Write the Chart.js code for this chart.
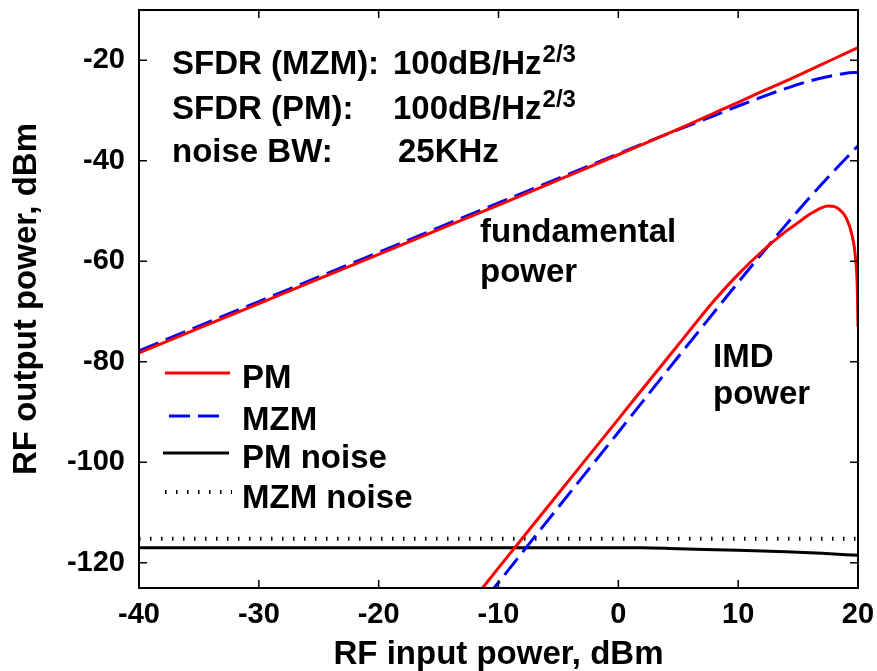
<!DOCTYPE html>
<html lang="en">
<head>
<meta charset="UTF-8">
<title>RF output power vs RF input power</title>
<script src="https://cdn.jsdelivr.net/npm/chart.js"></script>
<style>
  body { margin: 0; background: #fff; }
  .chart-container { width: 877px; height: 671px; }
</style>
</head>
<body>
<div class="chart-container"><canvas id="sfdrChart"></canvas></div>
<script>
// fundamental power (RF input in dBm)
const fundX = [-40, -35, -30, -25, -20, -15, -10, -5, 0, 5, 8, 10, 12, 14, 16, 18, 19, 20];
const pmFund = [-78.2, -73.3, -68.4, -63.5, -58.6, -53.7, -48.8, -43.8, -38.8, -33.7, -30.5, -28.4, -26.2, -24.1, -21.9, -19.7, -18.6, -17.5];
const mzmFund = [-77.8, -72.9, -68, -63.1, -58.2, -53.3, -48.4, -43.5, -38.6, -33.8, -31, -29.1, -27.3, -25.6, -24.1, -23, -22.6, -22.4];

// IMD power
const pmImdX = [-12, -10, -5, 0, 5, 8, 10, 12, 14, 15, 16, 17, 17.5, 18, 18.5, 19, 19.5, 19.8, 19.95, 20];
const pmImd = [-127, -121, -106.2, -91.4, -76.6, -67.8, -62.6, -58, -54, -52.3, -50.6, -49.3, -49, -49.1, -49.8, -51.3, -54.8, -59.5, -66, -73];
const mzmImdX = [-11, -10, -5, 0, 5, 10, 12, 14, 16, 18, 20];
const mzmImd = [-126.9, -123.9, -108.9, -94, -79, -64.2, -58.4, -52.7, -47.2, -42, -37];

// noise floors
const noiseX = [-40, 2, 5, 10, 14, 17, 20];
const pmNoise = [-117, -117, -117.2, -117.5, -117.8, -118.1, -118.5];
const mzmNoise = [-115.2, -115.2, -115.2, -115.2, -115.2, -115.2, -115.2];

const xTicks = [-40, -30, -20, -10, 0, 10, 20];
const yTicks = [-120, -100, -80, -60, -40, -20];

const FONT = '"Liberation Sans", Arial, sans-serif';
const TXT = 'bold 33px ' + FONT;
const pts = (xs, ys) => xs.map((x, i) => ({ x: x, y: ys[i] }));

// text labels drawn inside the plot
const notes = {
  id: 'notes',
  afterDatasetsDraw(chart) {
    const ctx = chart.ctx;
    ctx.save();
    ctx.fillStyle = '#000';
    ctx.textBaseline = 'alphabetic';
    ctx.textAlign = 'left';

    const rows = [['SFDR (MZM):', '100dB/Hz', 74], ['SFDR (PM):', '100dB/Hz', 119], ['noise BW:', '25KHz', 162]];
    rows.forEach((r, i) => {
      ctx.font = TXT;
      ctx.fillText(r[0], 172, r[2]);
      const vx = i === 2 ? 398 : 393;
      ctx.fillText(r[1], vx, r[2]);
      if (i < 2) {
        const w = ctx.measureText(r[1]).width;
        ctx.font = 'bold 24px ' + FONT;
        ctx.fillText('2/3', vx + w + 1, r[2] - 12);
      }
    });

    ctx.font = TXT;
    ctx.fillText('fundamental', 480, 242);
    ctx.fillText('power', 480, 282);
    ctx.fillText('IMD', 713, 367);
    ctx.fillText('power', 713, 404);

    // legend
    const items = [
      { ds: 0, label: 'PM', y: 373, x0: 165, x1: 230, base: 388 },
      { ds: 1, label: 'MZM', y: 416, x0: 169, x1: 219, base: 430 },
      { ds: 4, label: 'PM noise', y: 453, x0: 163, x1: 229, base: 468 },
      { ds: 5, label: 'MZM noise', y: 492, x0: 165, x1: 232, base: 508 }
    ];
    items.forEach(it => {
      const d = chart.data.datasets[it.ds];
      ctx.save();
      ctx.strokeStyle = d.borderColor;
      ctx.lineWidth = d.borderWidth;
      ctx.lineCap = 'butt';
      ctx.setLineDash(d.borderDash || []);
      ctx.beginPath();
      ctx.moveTo(it.x0, it.y);
      ctx.lineTo(it.x1, it.y);
      ctx.stroke();
      ctx.restore();
      ctx.font = TXT;
      ctx.fillText(it.label, 242, it.base);
    });
    ctx.restore();
  }
};

// box and inward tick marks on all four sides
const frame = {
  id: 'frame',
  afterDraw(chart) {
    const { ctx, chartArea: a, scales } = chart;
    ctx.save();
    ctx.strokeStyle = '#000';
    ctx.lineWidth = 1.5;
    ctx.beginPath();
    xTicks.forEach(v => {
      const px = scales.x.getPixelForValue(v);
      ctx.moveTo(px, a.bottom); ctx.lineTo(px, a.bottom - 8);
      ctx.moveTo(px, a.top); ctx.lineTo(px, a.top + 8);
    });
    yTicks.forEach(v => {
      const py = scales.y.getPixelForValue(v);
      ctx.moveTo(a.left, py); ctx.lineTo(a.left + 8, py);
      ctx.moveTo(a.right, py); ctx.lineTo(a.right - 8, py);
    });
    ctx.stroke();
    ctx.lineWidth = 2;
    ctx.strokeRect(a.left, a.top, a.right - a.left, a.bottom - a.top);
    ctx.restore();
  }
};

const ctx = document.getElementById('sfdrChart').getContext('2d');
new Chart(ctx, {
  type: 'line',
  data: {
    datasets: [
      { label: 'PM', data: pts(fundX, pmFund), borderColor: '#ff0000', borderWidth: 3 },
      { label: 'MZM', data: pts(fundX, mzmFund), borderColor: '#0000ff', borderWidth: 3, borderDash: [21, 8] },
      { label: 'PM IMD', data: pts(pmImdX, pmImd), borderColor: '#ff0000', borderWidth: 3 },
      { label: 'MZM IMD', data: pts(mzmImdX, mzmImd), borderColor: '#0000ff', borderWidth: 3, borderDash: [21, 8] },
      { label: 'PM noise', data: pts(noiseX, pmNoise), borderColor: '#000000', borderWidth: 3 },
      { label: 'MZM noise', data: pts(noiseX, mzmNoise), borderColor: '#000000', borderWidth: 4, borderDash: [1.5, 9.5] }
    ]
  },
  options: {
    responsive: true,
    maintainAspectRatio: false,
    animation: false,
    layout: { padding: { left: 0, top: 10, right: 19, bottom: 0 } },
    elements: {
      point: { radius: 0 },
      line: { tension: 0, cubicInterpolationMode: 'monotone', fill: false }
    },
    plugins: { legend: { display: false }, tooltip: { enabled: false } },
    scales: {
      x: {
        type: 'linear', min: -40, max: 20,
        afterBuildTicks: s => { s.ticks = xTicks.map(v => ({ value: v })); },
        afterFit: s => { s.height = 83; s.paddingLeft = 0; s.paddingRight = 0; },
        grid: { display: false, drawTicks: false },
        border: { display: false },
        ticks: { color: '#000', font: { family: FONT, size: 29, weight: 'bold' }, padding: 10, maxRotation: 0, autoSkip: false, callback: v => String(v) },
        title: { display: true, text: 'RF input power, dBm', color: '#000', font: { family: FONT, size: 33, weight: 'bold', lineHeight: 1 }, padding: { top: 0, bottom: 0 } }
      },
      y: {
        type: 'linear', min: -125, max: -10,
        afterBuildTicks: s => { s.ticks = yTicks.map(v => ({ value: v })); },
        afterFit: s => { s.width = 139; s.paddingTop = 0; s.paddingBottom = 0; },
        grid: { display: false, drawTicks: false },
        border: { display: false },
        ticks: { color: '#000', font: { family: FONT, size: 29, weight: 'bold' }, padding: 14, autoSkip: false, callback: v => String(v) },
        title: { display: true, text: 'RF output power, dBm', color: '#000', font: { family: FONT, size: 33, weight: 'bold', lineHeight: 1 }, padding: { top: 10, bottom: 0 } }
      }
    }
  },
  plugins: [notes, frame]
});
</script>
</body>
</html>
